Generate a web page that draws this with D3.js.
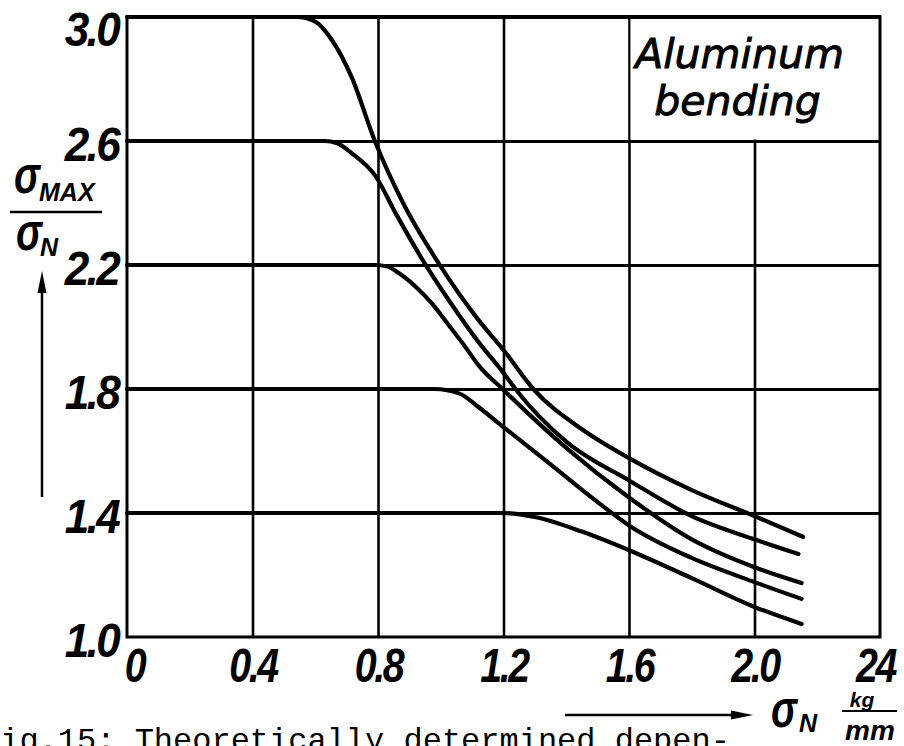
<!DOCTYPE html>
<html>
<head>
<meta charset="utf-8">
<script src="https://cdnjs.cloudflare.com/ajax/libs/d3/7.8.5/d3.min.js"></script>
<style>
  body { margin: 0; background: #fff; }
  .lbl { font-family: "Liberation Sans", Arial, sans-serif; font-style: italic; font-weight: bold; fill: #000; }
  .cap { font-family: "Liberation Mono", "DejaVu Sans Mono", monospace; fill: #000; }
</style>
</head>
<body>
<script>
var width = 904;
var height = 746;
var margin = {top: 17, right: 24, bottom: 109, left: 127};
var w = width - margin.left - margin.right;
var h = height - margin.top - margin.bottom;

//tick values and labels
var xTicks = [0, 0.4, 0.8, 1.2, 1.6, 2.0, 2.4];
var xTickLabels = ["0", "0.4", "0.8", "1.2", "1.6", "2.0", "24"];
var yTicks = [1.0, 1.4, 1.8, 2.2, 2.6, 3.0];
var yTickLabels = ["1.0", "1.4", "1.8", "2.2", "2.6", "3.0"];

//curves (sigma_N, sigma_max/sigma_N)
var curve30x = [0, 0.54, 0.60, 0.653, 0.716, 0.79, 0.88, 0.993, 1.12, 1.2, 1.295, 1.45, 1.6, 1.8, 2.0, 2.155];
var curve30y = [3.0, 3.0, 2.985, 2.926, 2.806, 2.60, 2.40, 2.206, 2.023, 1.926, 1.80, 1.67, 1.577, 1.474, 1.39, 1.323];
var curve26x = [0, 0.63, 0.67, 0.716, 0.79, 0.86, 0.94, 1.03, 1.12, 1.2, 1.238, 1.4, 1.6, 1.8, 2.0, 2.14];
var curve26y = [2.6, 2.6, 2.593, 2.561, 2.49, 2.36, 2.22, 2.08, 1.952, 1.852, 1.80, 1.63, 1.505, 1.39, 1.315, 1.268];
var curve22x = [0, 0.79, 0.83, 0.866, 0.92, 0.971, 1.03, 1.079, 1.12, 1.2, 1.4, 1.6, 1.8, 2.0, 2.15];
var curve22y = [2.2, 2.2, 2.195, 2.174, 2.13, 2.077, 2.0, 1.935, 1.877, 1.797, 1.61, 1.45, 1.315, 1.225, 1.174];
var curve18x = [0, 0.98, 1.06, 1.12, 1.2, 1.34, 1.5, 1.6, 1.8, 2.0, 2.15];
var curve18y = [1.8, 1.8, 1.785, 1.742, 1.677, 1.565, 1.435, 1.36, 1.255, 1.177, 1.123];
var curve14x = [0, 1.2, 1.3, 1.45, 1.6, 1.8, 2.0, 2.15];
var curve14y = [1.4, 1.4, 1.387, 1.34, 1.28, 1.19, 1.097, 1.042];

var curvesX = [curve30x, curve26x, curve22x, curve18x, curve14x];
var curvesY = [curve30y, curve26y, curve22y, curve18y, curve14y];

var svg = d3.select("body").append("svg")
    .attr("width", width)
    .attr("height", height);

var chart = svg.append("g")
    .attr("transform", "translate(" + margin.left + "," + margin.top + ")");

var x = d3.scaleLinear()
        .domain([0, 2.4])
        .range([0, w]);

var y = d3.scaleLinear()
        .domain([1.0, 3.0])
        .range([h, 0]);

//squeeze a text so the wide font looks like the narrow lettering
function narrow(sel, k) {
  sel.each(function() {
    var len = this.getComputedTextLength();
    d3.select(this)
      .attr("textLength", len * k)
      .attr("lengthAdjust", "spacingAndGlyphs");
  });
}

//grid via axes
var xGrid = d3.axisBottom(x)
    .tickValues(xTicks.slice(1, -1))
    .tickSize(-h)
    .tickFormat("");
var yGrid = d3.axisLeft(y)
    .tickValues(yTicks.slice(1, -1))
    .tickSize(-w)
    .tickFormat("");

chart.append("g")
    .attr("transform", "translate(0," + h + ")")
    .call(xGrid)
    .call(function(g) { g.select(".domain").remove(); })
    .selectAll("line")
      .attr("stroke", "#000")
      .attr("stroke-width", 2.6);

chart.append("g")
    .call(yGrid)
    .call(function(g) { g.select(".domain").remove(); })
    .selectAll("line")
      .attr("stroke", "#000")
      .attr("stroke-width", 3);

//label box in upper right cell
chart.append("rect")
    .attr("x", x(1.6) + 1.5)
    .attr("y", y(3.0) + 2)
    .attr("width", x(2.4) - x(1.6) - 3)
    .attr("height", y(2.6) - y(3.0) - 3.5)
    .attr("fill", "#fff");

chart.append("text")
    .attr("x", x(2.0) - 15)
    .attr("y", 51)
    .attr("text-anchor", "middle")
    .attr("font-family", "DejaVu Sans, sans-serif")
    .attr("font-style", "italic")
    .attr("font-size", 41)
    .attr("stroke", "#000")
    .attr("stroke-width", 0.9)
    .text("Aluminum");

chart.append("text")
    .attr("x", x(2.0) - 17)
    .attr("y", 98)
    .attr("text-anchor", "middle")
    .attr("font-family", "DejaVu Sans, sans-serif")
    .attr("font-style", "italic")
    .attr("font-size", 41)
    .attr("stroke", "#000")
    .attr("stroke-width", 0.9)
    .text("bending");

//frame
chart.append("rect")
    .attr("x", 0)
    .attr("y", 0)
    .attr("width", w)
    .attr("height", h)
    .attr("fill", "none")
    .attr("stroke", "#000")
    .attr("stroke-width", 3);
chart.append("line")
    .attr("x1", -1).attr("x2", w + 1)
    .attr("y1", 0).attr("y2", 0)
    .attr("stroke", "#000")
    .attr("stroke-width", 4);

//curves
var line = d3.line()
    .x(function(d) { return x(d[0]); })
    .y(function(d) { return y(d[1]); })
    .curve(d3.curveMonotoneX);

for (var i = 0; i < curvesX.length; i++) {
  var pts = curvesX[i].map(function(v, j) { return [v, curvesY[i][j]]; });
  chart.append("path")
      .attr("d", line(pts))
      .attr("fill", "none")
      .attr("stroke", "#000")
      .attr("stroke-width", 4.2)
      .attr("stroke-linecap", "round");
}

//tick labels
var xAxis = d3.axisBottom(x)
    .tickValues(xTicks)
    .tickSize(0)
    .tickPadding(0)
    .tickFormat(function(d, i) { return xTickLabels[i]; });
var yAxis = d3.axisLeft(y)
    .tickValues(yTicks)
    .tickSize(0)
    .tickPadding(9)
    .tickFormat(function(d, i) { return yTickLabels[i]; });

chart.append("g")
    .attr("transform", "translate(0," + h + ")")
    .call(xAxis)
    .call(function(g) { g.select(".domain").remove(); })
    .selectAll("text")
      .attr("class", "lbl")
      .attr("font-size", 48)
      .attr("letter-spacing", -3)
      .attr("y", 45)
      .attr("dy", 0)
      .attr("dx", function(d) { return d == 0 ? 7 : (d == 2.4 ? -5 : 0); })
      .call(narrow, 0.82);

chart.append("g")
    .call(yAxis)
    .call(function(g) { g.select(".domain").remove(); })
    .selectAll("text")
      .attr("class", "lbl")
      .attr("font-size", 49)
      .attr("letter-spacing", -3)
      .attr("dy", function(d) { return d == 3.0 ? 28 : 19; })
      .call(narrow, 0.9);

//y axis title
svg.append("text")
    .attr("class", "lbl")
    .attr("x", 14)
    .attr("y", 193)
    .attr("font-size", 52)
    .text("σ")
    .call(narrow, 0.75);
svg.append("text")
    .attr("class", "lbl")
    .attr("x", 39)
    .attr("y", 201)
    .attr("font-size", 25)
    .text("MAX");
svg.append("line")
    .attr("x1", 10).attr("x2", 102)
    .attr("y1", 212).attr("y2", 212)
    .attr("stroke", "#000")
    .attr("stroke-width", 2.5);
svg.append("text")
    .attr("class", "lbl")
    .attr("x", 16)
    .attr("y", 250)
    .attr("font-size", 52)
    .text("σ")
    .call(narrow, 0.75);
svg.append("text")
    .attr("class", "lbl")
    .attr("x", 40)
    .attr("y", 256)
    .attr("font-size", 25)
    .text("N");
svg.append("line")
    .attr("x1", 42).attr("x2", 42)
    .attr("y1", 497).attr("y2", 288)
    .attr("stroke", "#000")
    .attr("stroke-width", 2.5);
svg.append("path")
    .attr("d", "M42,271 L37.5,293 L46.5,293 Z")
    .attr("fill", "#000");

//x axis title
svg.append("line")
    .attr("x1", 565).attr("x2", 736)
    .attr("y1", 715).attr("y2", 715)
    .attr("stroke", "#000")
    .attr("stroke-width", 2.5);
svg.append("path")
    .attr("d", "M753,715 L731,710.5 L731,719.5 Z")
    .attr("fill", "#000");
svg.append("text")
    .attr("class", "lbl")
    .attr("x", 771)
    .attr("y", 727)
    .attr("font-size", 52)
    .text("σ")
    .call(narrow, 0.75);
svg.append("text")
    .attr("class", "lbl")
    .attr("x", 799)
    .attr("y", 732)
    .attr("font-size", 25)
    .text("N");
svg.append("text")
    .attr("class", "lbl")
    .attr("x", 862)
    .attr("y", 707)
    .attr("text-anchor", "middle")
    .attr("font-size", 21)
    .text("kg");
svg.append("line")
    .attr("x1", 842).attr("x2", 897)
    .attr("y1", 711).attr("y2", 711)
    .attr("stroke", "#000")
    .attr("stroke-width", 2.2);
svg.append("text")
    .attr("class", "lbl")
    .attr("x", 870)
    .attr("y", 740)
    .attr("text-anchor", "middle")
    .attr("font-size", 28)
    .text("mm");

//caption, cut off by the page edge
svg.append("text")
    .attr("class", "cap")
    .attr("x", -19)
    .attr("y", 750)
    .attr("font-size", 32)
    .text("Fig.15: Theoretically determined depen-");
</script>
</body>
</html>
